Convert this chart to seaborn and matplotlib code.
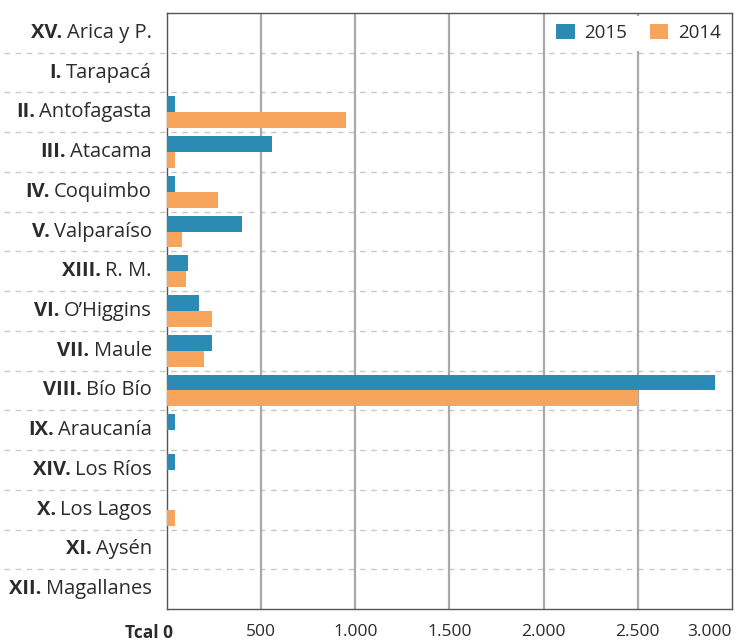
import pandas as pd
import matplotlib
matplotlib.use('Agg')
import matplotlib.pyplot as plt
import matplotlib.transforms as mtransforms
from matplotlib.patches import Patch
import seaborn as sns

# Region labels: bold roman numeral + regular name
region_num = ['XV.', 'I.', 'II.', 'III.', 'IV.', 'V.', 'XIII.', 'VI.', 'VII.',
              'VIII.', 'IX.', 'XIV.', 'X.', 'XI.', 'XII.']
region_name = ['Arica y P.', 'Tarapacá', 'Antofagasta', 'Atacama', 'Coquimbo',
               'Valparaíso', 'R. M.', 'O\u2019Higgins', 'Maule', 'Bío Bío',
               'Araucanía', 'Los Ríos', 'Los Lagos', 'Aysén', 'Magallanes']

# Tcal per region
tcal_2015 = [0, 0, 45, 560, 45, 400, 110, 170, 240, 2910, 45, 45, 0, 0, 0]
tcal_2014 = [0, 0, 950, 45, 270, 80, 100, 240, 195, 2500, 0, 0, 45, 0, 0]

years = ['2015', '2014']
x_ticks = [0, 500, 1000, 1500, 2000, 2500, 3000]
x_tick_labels = ['Tcal 0', '500', '1.000', '1.500', '2.000', '2.500', '3.000']

colors = {'2015': '#2b8bb4', '2014': '#f7a55c'}

# long-form table for seaborn
region_key = [f'{n} {r}' for n, r in zip(region_num, region_name)]
df = pd.DataFrame({
    'region': region_key * 2,
    'year': ['2015'] * len(region_key) + ['2014'] * len(region_key),
    'tcal': tcal_2015 + tcal_2014,
})

sns.set_theme(style='white')
plt.rcParams['font.family'] = ['Open Sans', 'DejaVu Sans']
text_color = '#2b2b2b'

fig = plt.figure(figsize=(7.37, 6.42), dpi=100)
ax = fig.add_axes([0.2266, 0.0514, 0.7666, 0.9284])

sns.barplot(data=df, x='tcal', y='region', hue='year', hue_order=years,
            order=region_key, palette=colors, orient='h', width=0.8,
            saturation=1, linewidth=0, legend=False, ax=ax, zorder=3)

ax.set_xlim(0, 3000)
ax.set_ylim(len(region_key) - 0.5, -0.5)

# vertical grid lines
for v in x_ticks[1:-1]:
    ax.axvline(v, color='#a9a9a9', lw=1.6, zorder=1)

# dashed row separators that run under the labels too
for i in range(len(region_key) - 1):
    ax.axhline(i + 0.5, xmin=-0.288, xmax=1, color='#c9c9c9', lw=1,
               ls=(0, (4, 4)), clip_on=False, zorder=0)

for side in ['top', 'right', 'bottom', 'left']:
    ax.spines[side].set_color('#555555')
    ax.spines[side].set_linewidth(1)

ax.set_xticks(x_ticks)
ax.set_xticklabels(x_tick_labels, fontsize=12.5, color=text_color)
ax.tick_params(axis='x', length=0, pad=11)
ticks = ax.xaxis.get_major_ticks()
shift = mtransforms.ScaledTranslation(4 / 72, 0, fig.dpi_scale_trans)
ticks[0].label1.set_fontweight('bold')
ticks[0].label1.set_ha('right')
ticks[0].label1.set_transform(ticks[0].label1.get_transform() + shift)
ticks[-1].label1.set_ha('right')

ax.set_yticks([])
ax.set_xlabel('')
ax.set_ylabel('')

# category labels, mixed weight
for i, (num, name) in enumerate(zip(region_num, region_name)):
    t = ax.annotate(name, xy=(0, i), xycoords=('axes fraction', 'data'),
                    xytext=(-11, 0), textcoords='offset points',
                    ha='right', va='center', fontsize=14.5, color=text_color)
    ax.annotate(num, xy=(0, 0.5), xycoords=t, xytext=(-3, 0),
                textcoords='offset points', ha='right', va='center',
                fontsize=14.5, fontweight='bold', color=text_color)

handles = [Patch(facecolor=colors[y], edgecolor='none', label=y) for y in years]
leg = ax.legend(handles=handles, loc='upper right', ncol=2, fontsize=13.5,
                frameon=True, facecolor='white', edgecolor='none', framealpha=1,
                handlelength=1.0, handleheight=0.85, handletextpad=0.5,
                columnspacing=1.2, borderaxespad=0.15, borderpad=0.45)
leg.set_zorder(5)
for txt in leg.get_texts():
    txt.set_color(text_color)

fig.savefig('out.png', dpi=100)
